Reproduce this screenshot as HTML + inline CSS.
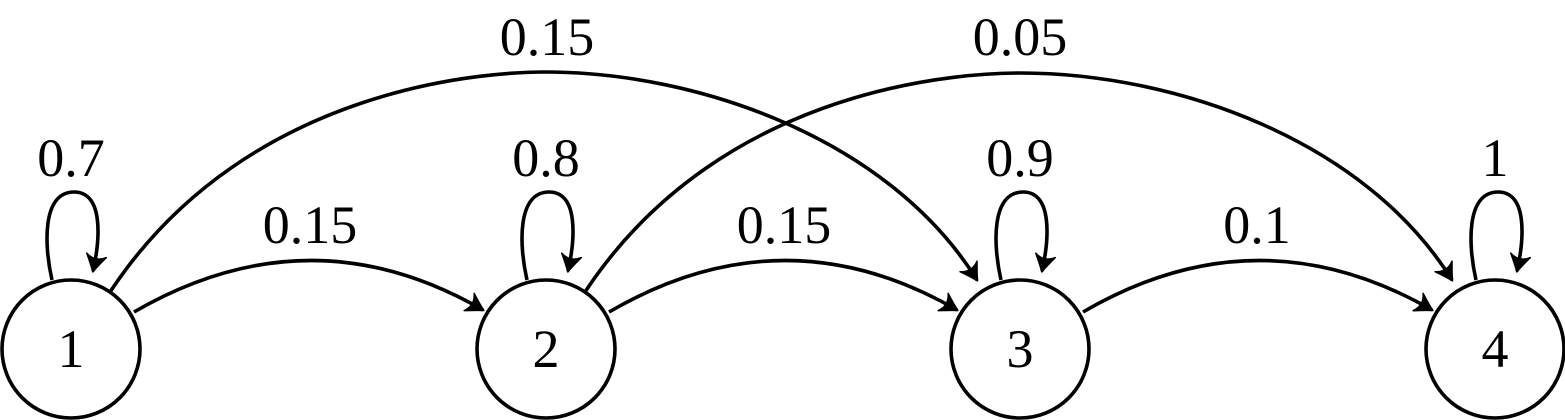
<!DOCTYPE html>
<html><head><meta charset="utf-8"><style>
html,body{margin:0;padding:0;background:#fff;}
svg{display:block;}
text{font-family:"Liberation Serif",serif;font-size:54px;fill:#000;}
</style></head><body>
<svg width="1565" height="420" viewBox="0 0 1565 420" xmlns="http://www.w3.org/2000/svg">
<defs>
<marker id="a" markerUnits="userSpaceOnUse" markerWidth="30" markerHeight="30" refX="0" refY="0" viewBox="-20 -15 30 30" orient="auto">
<path d="M-16,-10 Q-5,-3 1,0 Q-5,3 -16,10 Q-9,0 -16,-10 Z" fill="#000" stroke="#000" stroke-width="1.5" stroke-linejoin="round"/>
</marker>
<g id="loop">
<path d="M52,280 C44,245 42,192 74,192 C104,192 100,240 93,271" fill="none" stroke="#000" stroke-width="3.6" marker-end="url(#a)"/>
</g>
</defs>
<g fill="none" stroke="#000" stroke-width="3.6">
<circle cx="71" cy="349" r="69"/>
<circle cx="546" cy="349" r="69"/>
<circle cx="1020" cy="349" r="69"/>
<circle cx="1495" cy="349" r="69"/>
<path d="M134,312 Q310,210 483,310" marker-end="url(#a)"/>
<path d="M609,312 Q784,210 957,310" marker-end="url(#a)"/>
<path d="M1083,312 Q1258,210 1432,310" marker-end="url(#a)"/>
<path d="M110,292 C250,80 500,72 545,72 C700,72 890,140 977,280" marker-end="url(#a)"/>
<path d="M585,292 C725,80 975,73 1020,73 C1175,73 1365,140 1452,280" marker-end="url(#a)"/>
</g>
<use href="#loop"/>
<use href="#loop" transform="translate(475,0)"/>
<use href="#loop" transform="translate(949,0)"/>
<use href="#loop" transform="translate(1424,0)"/>
<g text-anchor="middle">
<text x="71" y="367">1</text>
<text x="546" y="367">2</text>
<text x="1020" y="367">3</text>
<text x="1495" y="367">4</text>
<text x="71" y="176">0.7</text>
<text x="546" y="176">0.8</text>
<text x="1020" y="176">0.9</text>
<text x="1495" y="176">1</text>
<text x="310" y="243">0.15</text>
<text x="784" y="243">0.15</text>
<text x="1257" y="243">0.1</text>
<text x="547" y="55">0.15</text>
<text x="1020" y="55">0.05</text>
</g>
</svg>
</body></html>
